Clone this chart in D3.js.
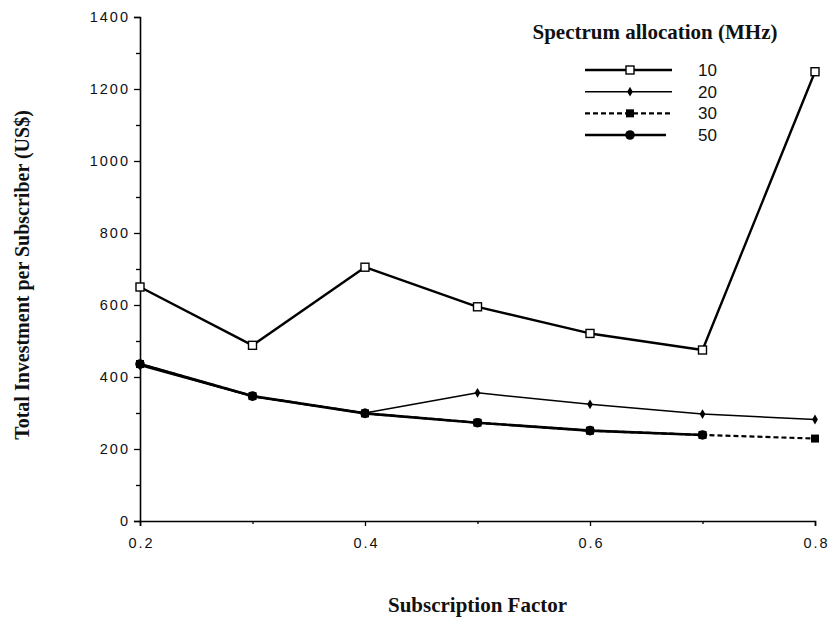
<!DOCTYPE html>
<html>
<head>
<meta charset="utf-8">
<script src="https://cdn.jsdelivr.net/npm/d3@7"></script>
<style>
  html, body { margin: 0; padding: 0; background: #fff; }
  svg { display: block; }
</style>
</head>
<body>
<svg id="chart" width="838" height="626"></svg>
<script>
// Subscription factor on the x axis
const factors = [0.2, 0.3, 0.4, 0.5, 0.6, 0.7, 0.8];

// Total investment per subscriber (US$) for each spectrum allocation
const mhz10 = [650, 488, 705, 595, 521, 475, 1248];
const mhz20 = [432, 346, 300, 356, 324, 297, 282];
const mhz30 = [436, 347, 299, 273, 251, 239, 229];
const mhz50 = [436, 347, 299, 273, 251, 239];

const seriesNames = ["10", "20", "30", "50"];
const xTickValues = [0.2, 0.4, 0.6, 0.8];
const yTickValues = [0, 200, 400, 600, 800, 1000, 1200, 1400];

const series = [
  { name: "10", values: mhz10, width: 2.4, dash: null, marker: "open-square" },
  { name: "20", values: mhz20, width: 1.5, dash: null, marker: "diamond" },
  { name: "30", values: mhz30, width: 2.2, dash: "5,3", marker: "filled-square" },
  { name: "50", values: mhz50, width: 2.6, dash: null, marker: "circle" }
];

const svg = d3.select("#chart");
const margin = { left: 140, right: 23, top: 17, bottom: 105 };
const W = 838, H = 626;

const x = d3.scaleLinear().domain([0.2, 0.8]).range([margin.left, W - margin.right]);
const y = d3.scaleLinear().domain([0, 1400]).range([H - margin.bottom, margin.top]);

const sans = "'Liberation Sans', Arial, sans-serif";
const serif = "'Liberation Serif', 'Times New Roman', serif";

// Y axis: major ticks every 200, minor ticks every 100
svg.append("g").attr("transform", `translate(${x(0.2)},0)`)
  .call(d3.axisLeft(y).tickValues(yTickValues).tickSize(6).tickPadding(4).tickFormat(d3.format("d")));
svg.append("g").attr("transform", `translate(${x(0.2)},0)`)
  .call(d3.axisLeft(y).tickValues(d3.range(100, 1400, 200)).tickSize(4).tickFormat(""))
  .call(g => g.select(".domain").remove());

// X axis: major ticks every 0.2, minor at 0.1 steps
svg.append("g").attr("transform", `translate(0,${y(0)})`)
  .call(d3.axisBottom(x).tickValues(xTickValues).tickSize(5).tickPadding(12).tickFormat(d3.format(".1f")));
svg.append("g").attr("transform", `translate(0,${y(0)})`)
  .call(d3.axisBottom(x).tickValues([0.3, 0.5, 0.7]).tickSize(3).tickFormat(""))
  .call(g => g.select(".domain").remove());

svg.selectAll(".domain").attr("stroke", "#000").attr("stroke-width", 1.6);
svg.selectAll(".tick line").attr("stroke", "#000").attr("stroke-width", 1.3);
svg.selectAll(".tick text").attr("font-family", sans).attr("font-size", 14.5).attr("fill", "#111")
  .attr("letter-spacing", "2px");
// shift x labels to compensate for trailing letter spacing
svg.selectAll("g .tick text").filter(function () { return this.getAttribute("dy") === "0.71em"; })
  .attr("dx", "1px");

// Axis titles
svg.append("text")
  .attr("x", (x(0.2) + x(0.8)) / 2).attr("y", 612)
  .attr("text-anchor", "middle")
  .attr("font-family", serif).attr("font-size", 21).attr("font-weight", "bold")
  .attr("fill", "#111")
  .text("Subscription Factor");

svg.append("text")
  .attr("transform", `translate(29,${(y(0) + y(1400)) / 2 + 6}) rotate(-90)`)
  .attr("text-anchor", "middle")
  .attr("font-family", serif).attr("font-size", 20).attr("font-weight", "bold")
  .attr("fill", "#111")
  .text("Total Investment per Subscriber (US$)");

// Marker drawing
function drawMarker(g, type, cx, cy) {
  if (type === "open-square") {
    g.append("rect").attr("x", cx - 4).attr("y", cy - 4).attr("width", 8).attr("height", 8)
      .attr("fill", "#fff").attr("stroke", "#000").attr("stroke-width", 1.4);
  } else if (type === "diamond") {
    g.append("path").attr("d", d3.symbol(d3.symbolDiamond, 28)())
      .attr("transform", `translate(${cx},${cy})`).attr("fill", "#000");
  } else if (type === "filled-square") {
    g.append("rect").attr("x", cx - 4).attr("y", cy - 4).attr("width", 8).attr("height", 8)
      .attr("fill", "#000");
  } else if (type === "circle") {
    g.append("circle").attr("cx", cx).attr("cy", cy).attr("r", 4.8).attr("fill", "#000");
  }
}

const line = d3.line().x((d, i) => x(factors[i])).y(d => y(d));

// Draw order so that overlapping lines keep the visible markers on top
const drawOrder = ["30", "20", "50", "10"];
drawOrder.forEach(name => {
  const s = series.find(d => d.name === name);
  const g = svg.append("g");
  g.append("path").datum(s.values)
    .attr("d", line)
    .attr("fill", "none").attr("stroke", "#000")
    .attr("stroke-width", s.width)
    .attr("stroke-dasharray", s.dash)
    .attr("stroke-linejoin", "round");
  s.values.forEach((v, i) => drawMarker(g, s.marker, x(factors[i]), y(v)));
});

// Legend
const legend = svg.append("g");
legend.append("text")
  .attr("x", 655).attr("y", 39).attr("text-anchor", "middle")
  .attr("font-family", serif).attr("font-size", 21).attr("font-weight", "bold")
  .attr("fill", "#111")
  .text("Spectrum allocation (MHz)");

const legendY = d3.scalePoint().domain(seriesNames).range([70, 135]);
series.forEach(s => {
  const ly = legendY(s.name);
  const x2 = s.name === "50" ? 666 : 672;
  legend.append("line").attr("x1", 585).attr("x2", x2).attr("y1", ly).attr("y2", ly)
    .attr("stroke", "#000").attr("stroke-width", s.width).attr("stroke-dasharray", s.dash);
  drawMarker(legend, s.marker, 630, ly);
  legend.append("text").attr("x", 698).attr("y", ly + 6)
    .attr("font-family", sans).attr("font-size", 17).attr("fill", "#111")
    .text(s.name);
});
</script>
</body>
</html>
